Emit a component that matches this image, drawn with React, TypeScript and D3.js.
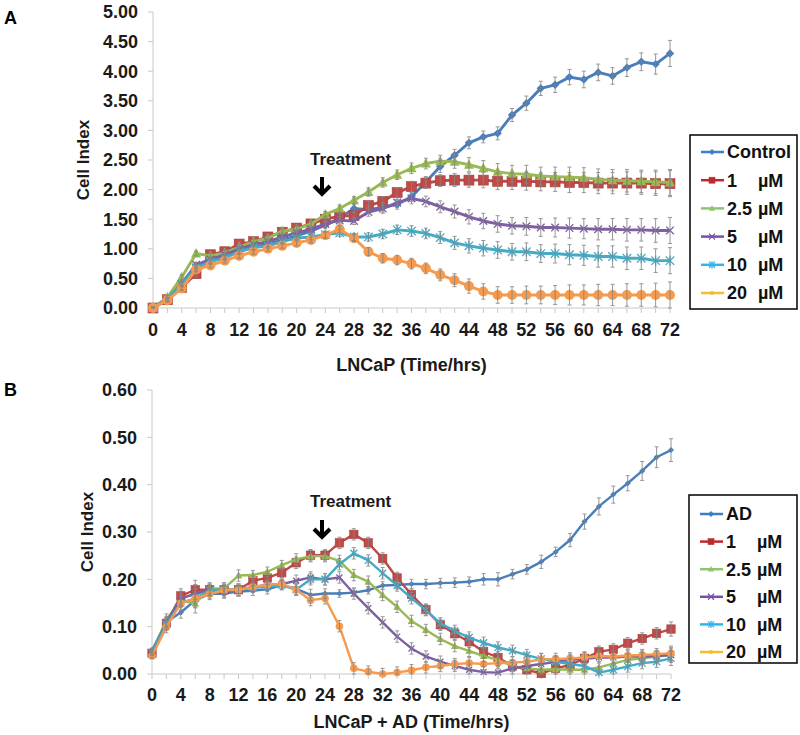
import React from "react";
import * as d3 from "d3";

// ---------- data ----------
const hours = [0, 2, 4, 6, 8, 10, 12, 14, 16, 18, 20, 22, 24, 26, 28, 30, 32, 34, 36, 38, 40, 42, 44, 46, 48, 50, 52, 54, 56, 58, 60, 62, 64, 66, 68, 70, 72];
const xTickLabels = [0, 4, 8, 12, 16, 20, 24, 28, 32, 36, 40, 44, 48, 52, 56, 60, 64, 68, 72];
const yTicksA = [0, 0.5, 1, 1.5, 2, 2.5, 3, 3.5, 4, 4.5, 5];
const yTicksB = [0, 0.1, 0.2, 0.3, 0.4, 0.5, 0.6];

const legendA = ["Control", "1", "2.5", "5", "10", "20"];
const legendB = ["AD", "1", "2.5", "5", "10", "20"];
const unitLabel = "µM";

// Panel A (LNCaP)
const aControl = [0, 0.15, 0.42, 0.72, 0.80, 0.87, 0.97, 1.03, 1.08, 1.15, 1.22, 1.30, 1.40, 1.52, 1.68, 1.66, 1.70, 1.75, 1.88, 2.13, 2.39, 2.58, 2.79, 2.89, 2.95, 3.26, 3.46, 3.71, 3.77, 3.90, 3.86, 3.98, 3.92, 4.06, 4.16, 4.12, 4.30];
const a1uM = [0, 0.14, 0.35, 0.58, 0.90, 0.95, 1.08, 1.12, 1.20, 1.28, 1.35, 1.42, 1.50, 1.55, 1.56, 1.73, 1.80, 1.95, 2.05, 2.11, 2.15, 2.16, 2.16, 2.16, 2.14, 2.14, 2.14, 2.13, 2.13, 2.12, 2.12, 2.11, 2.11, 2.11, 2.11, 2.10, 2.10];
const a2_5uM = [0, 0.18, 0.52, 0.92, 0.88, 0.93, 1.03, 1.12, 1.18, 1.30, 1.33, 1.42, 1.58, 1.68, 1.82, 1.96, 2.12, 2.25, 2.36, 2.44, 2.48, 2.47, 2.42, 2.36, 2.30, 2.27, 2.26, 2.23, 2.22, 2.21, 2.20, 2.17, 2.16, 2.15, 2.14, 2.13, 2.12];
const a5uM = [0, 0.15, 0.40, 0.73, 0.82, 0.90, 1.00, 1.07, 1.12, 1.20, 1.27, 1.33, 1.42, 1.48, 1.47, 1.62, 1.68, 1.78, 1.85, 1.80, 1.71, 1.63, 1.54, 1.47, 1.42, 1.39, 1.38, 1.36, 1.36, 1.35, 1.34, 1.33, 1.33, 1.32, 1.32, 1.31, 1.31];
const a10uM = [0, 0.15, 0.40, 0.68, 0.78, 0.85, 0.95, 1.02, 1.05, 1.12, 1.18, 1.20, 1.24, 1.27, 1.20, 1.20, 1.25, 1.32, 1.30, 1.26, 1.19, 1.10, 1.05, 1.01, 0.98, 0.95, 0.95, 0.92, 0.92, 0.90, 0.89, 0.87, 0.87, 0.84, 0.84, 0.80, 0.80];
const a20uM = [0, 0.13, 0.33, 0.65, 0.72, 0.80, 0.88, 0.95, 1.00, 1.05, 1.10, 1.15, 1.23, 1.33, 1.18, 0.95, 0.84, 0.81, 0.75, 0.67, 0.56, 0.47, 0.37, 0.28, 0.22, 0.22, 0.22, 0.22, 0.22, 0.22, 0.22, 0.22, 0.22, 0.22, 0.22, 0.22, 0.22];
const aErrControl = [0.02, 0.03, 0.04, 0.05, 0.05, 0.05, 0.05, 0.05, 0.05, 0.05, 0.06, 0.06, 0.06, 0.07, 0.07, 0.07, 0.08, 0.08, 0.08, 0.09, 0.10, 0.10, 0.10, 0.10, 0.11, 0.11, 0.12, 0.12, 0.13, 0.13, 0.14, 0.14, 0.14, 0.15, 0.15, 0.17, 0.22];
const aErrTreated = [0.02, 0.03, 0.04, 0.04, 0.04, 0.04, 0.04, 0.04, 0.04, 0.04, 0.05, 0.05, 0.05, 0.06, 0.06, 0.07, 0.08, 0.08, 0.09, 0.09, 0.10, 0.11, 0.12, 0.13, 0.14, 0.14, 0.15, 0.15, 0.16, 0.17, 0.17, 0.18, 0.18, 0.19, 0.19, 0.20, 0.22];

// Panel B (LNCaP + AD)
const bAD = [0.05, 0.11, 0.13, 0.156, 0.169, 0.17, 0.174, 0.176, 0.179, 0.188, 0.18, 0.167, 0.17, 0.17, 0.172, 0.177, 0.187, 0.188, 0.19, 0.19, 0.192, 0.193, 0.195, 0.20, 0.20, 0.211, 0.221, 0.237, 0.258, 0.283, 0.322, 0.354, 0.379, 0.403, 0.429, 0.458, 0.473];
const b1uM = [0.044, 0.107, 0.165, 0.178, 0.178, 0.178, 0.178, 0.197, 0.203, 0.214, 0.235, 0.251, 0.251, 0.277, 0.295, 0.277, 0.244, 0.203, 0.168, 0.136, 0.104, 0.085, 0.068, 0.047, 0.035, 0.017, 0.009, 0.001, 0.012, 0.019, 0.033, 0.047, 0.052, 0.065, 0.075, 0.086, 0.095];
const b2_5uM = [0.045, 0.115, 0.155, 0.149, 0.181, 0.181, 0.208, 0.209, 0.216, 0.23, 0.242, 0.249, 0.249, 0.239, 0.209, 0.195, 0.167, 0.142, 0.112, 0.093, 0.074, 0.059, 0.049, 0.038, 0.03, 0.017, 0.012, 0.009, 0.01, 0.009, 0.009, 0.014, 0.022, 0.03, 0.033, 0.037, 0.04];
const b5uM = [0.045, 0.11, 0.16, 0.169, 0.178, 0.174, 0.178, 0.184, 0.188, 0.19, 0.197, 0.204, 0.2, 0.204, 0.17, 0.139, 0.109, 0.079, 0.054, 0.037, 0.026, 0.017, 0.009, 0.004, 0.003, 0.012, 0.017, 0.021, 0.026, 0.03, 0.032, 0.035, 0.035, 0.037, 0.037, 0.038, 0.04];
const b10uM = [0.045, 0.105, 0.15, 0.16, 0.177, 0.178, 0.178, 0.182, 0.184, 0.188, 0.178, 0.2, 0.2, 0.232, 0.255, 0.24, 0.213, 0.187, 0.16, 0.135, 0.107, 0.091, 0.077, 0.066, 0.056, 0.049, 0.04, 0.032, 0.026, 0.021, 0.017, 0.003, 0.009, 0.016, 0.023, 0.026, 0.033];
const b20uM = [0.038, 0.099, 0.149, 0.16, 0.169, 0.177, 0.178, 0.184, 0.188, 0.191, 0.178, 0.156, 0.16, 0.101, 0.012, 0.005, 0.0, 0.003, 0.008, 0.014, 0.017, 0.021, 0.023, 0.021, 0.023, 0.024, 0.026, 0.031, 0.032, 0.033, 0.035, 0.038, 0.037, 0.039, 0.04, 0.042, 0.044];
const bErrAD = [0.005, 0.01, 0.012, 0.012, 0.01, 0.01, 0.01, 0.01, 0.01, 0.01, 0.012, 0.012, 0.01, 0.008, 0.008, 0.008, 0.008, 0.008, 0.01, 0.01, 0.01, 0.01, 0.01, 0.012, 0.014, 0.01, 0.01, 0.014, 0.01, 0.014, 0.016, 0.018, 0.018, 0.016, 0.02, 0.022, 0.024];
const bErrTreated = [0.005, 0.012, 0.015, 0.02, 0.012, 0.012, 0.012, 0.01, 0.01, 0.01, 0.012, 0.012, 0.012, 0.012, 0.012, 0.012, 0.012, 0.012, 0.012, 0.012, 0.012, 0.012, 0.012, 0.012, 0.012, 0.012, 0.012, 0.012, 0.012, 0.012, 0.012, 0.012, 0.012, 0.012, 0.012, 0.012, 0.015];

// ---------- styles ----------
const FONT = "'Liberation Sans', Arial, Helvetica, sans-serif";
const lineColors = ["#4A7EBB", "#BE4B48", "#98B954", "#7D60A0", "#46AAC5", "#F59A4E"];
const legendColors = ["#3D7CC9", "#C1272D", "#8CC66A", "#7A4FA8", "#2FB5E6", "#F2BE2E"];
const markerTypes = ["diamond", "square", "triangle", "x", "star", "circle"];

function Marker({ type, x, y, s, color }: { type: string; x: number; y: number; s: number; color: string }) {
  switch (type) {
    case "diamond":
      return <path d={`M${x},${y - s}L${x + s},${y}L${x},${y + s}L${x - s},${y}Z`} fill={color} />;
    case "square":
      return <rect x={x - s} y={y - s} width={2 * s} height={2 * s} fill={color} stroke="#A53E3B" strokeWidth={0.6} />;
    case "triangle":
      return <path d={`M${x},${y - s * 1.1}L${x + s},${y + s * 0.8}L${x - s},${y + s * 0.8}Z`} fill={color} />;
    case "x":
      return (
        <g stroke={color} strokeWidth={1.3}>
          <line x1={x - s} y1={y - s} x2={x + s} y2={y + s} />
          <line x1={x - s} y1={y + s} x2={x + s} y2={y - s} />
        </g>
      );
    case "star":
      return (
        <g stroke={color} strokeWidth={1.3}>
          <line x1={x - s} y1={y - s} x2={x + s} y2={y + s} />
          <line x1={x - s} y1={y + s} x2={x + s} y2={y - s} />
          <line x1={x} y1={y - s * 1.2} x2={x} y2={y + s * 1.2} />
        </g>
      );
    default:
      return <circle cx={x} cy={y} r={s} fill={color} />;
  }
}

type PanelProps = {
  xRange: [number, number];
  yRange: [number, number];
  yMax: number;
  yTicks: number[];
  series: number[][];
  errs: number[][];
  markerSizes: number[];
  lineWidth: number;
  xTitle: string;
  xTitleY: number;
  tickLabelY: number;
  yTitleX: number;
  letter: string;
  letterY: number;
  treatY: number;
  arrowTop: number;
  legendBox: [number, number, number, number];
  legendRow0: number;
  legendStep: number;
  legendLabels: string[];
};

function Panel(p: PanelProps) {
  const x = d3.scaleLinear().domain([0, 72]).range(p.xRange);
  const y = d3.scaleLinear().domain([0, p.yMax]).range(p.yRange);
  const line = d3
    .line<number>()
    .x((_, i) => x(hours[i]))
    .y((d) => y(d));
  const x0 = x(0);
  const y0 = y(0);
  const axisColor = "#C8C8C8";
  const [lx, ly, lw, lh] = p.legendBox;
  return (
    <g fontFamily={FONT} fontWeight="bold">
      {/* axes */}
      <line x1={x0} x2={x0} y1={y(p.yMax)} y2={y0} stroke={axisColor} strokeWidth={1} />
      <line x1={x0} x2={x(72)} y1={y0} y2={y0} stroke={axisColor} strokeWidth={1} />
      {p.yTicks.map((t) => (
        <g key={"yt" + t}>
          <line x1={x0 - 5} x2={x0} y1={y(t)} y2={y(t)} stroke={axisColor} />
          <text x={x0 - 15} y={y(t)} dy="0.36em" textAnchor="end" fontSize={18} fill="#1a1a1a">
            {t.toFixed(2)}
          </text>
        </g>
      ))}
      {hours.map((h) => (
        <line key={"xt" + h} x1={x(h)} x2={x(h)} y1={y0} y2={y0 + 5} stroke={axisColor} />
      ))}
      {xTickLabels.map((h) => (
        <text key={"xl" + h} x={x(h)} y={p.tickLabelY} textAnchor="middle" fontSize={18} fill="#1a1a1a">
          {h}
        </text>
      ))}
      {/* titles */}
      <text x={(x0 + x(72)) / 2} y={p.xTitleY} textAnchor="middle" fontSize={18} fill="#1a1a1a">
        {p.xTitle}
      </text>
      <text
        transform={`translate(${p.yTitleX},${(y0 + y(p.yMax)) / 2}) rotate(-90)`}
        textAnchor="middle"
        dy="0.36em"
        fontSize={17}
        fill="#1a1a1a"
      >
        Cell Index
      </text>
      <text x={4} y={p.letterY} fontSize={18} fill="#000">
        {p.letter}
      </text>
      {/* treatment */}
      <text x={310} y={p.treatY} fontSize={17} fill="#1a1a1a">
        Treatment
      </text>
      <g stroke="#000" strokeWidth={4} fill="none" strokeLinejoin="miter">
        <line x1={322} x2={322} y1={p.arrowTop} y2={p.arrowTop + 15} />
        <path d={`M${314},${p.arrowTop + 9}L322,${p.arrowTop + 17}L330,${p.arrowTop + 9}`} />
      </g>
      {/* series */}
      {p.series.map((s, si) => (
        <g key={"s" + si}>
          <path d={line(s) || ""} fill="none" stroke={lineColors[si]} strokeWidth={p.lineWidth} strokeLinejoin="round" />
          {s.map((v, i) => (
            <Marker key={i} type={markerTypes[si]} x={x(hours[i])} y={y(v)} s={p.markerSizes[si]} color={lineColors[si]} />
          ))}
        </g>
      ))}
      {/* error bars */}
      <g stroke="#858585" strokeWidth={1} opacity={0.85}>
        {p.series.map((s, si) =>
          s.map((v, i) => {
            const e = p.errs[si][i];
            const xx = x(hours[i]);
            return (
              <g key={`e${si}-${i}`}>
                <line x1={xx} x2={xx} y1={y(v + e)} y2={y(Math.max(0, v - e))} />
                <line x1={xx - 2} x2={xx + 2} y1={y(v + e)} y2={y(v + e)} />
                <line x1={xx - 2} x2={xx + 2} y1={y(Math.max(0, v - e))} y2={y(Math.max(0, v - e))} />
              </g>
            );
          })
        )}
      </g>
      {/* legend */}
      <rect x={lx} y={ly} width={lw} height={lh} fill="#fff" stroke="#000" strokeWidth={1.5} />
      {p.legendLabels.map((lab, i) => {
        const ry = p.legendRow0 + i * p.legendStep;
        const isUnit = i > 0;
        return (
          <g key={"lg" + i}>
            <line x1={lx + 11} x2={lx + 34} y1={ry} y2={ry} stroke={legendColors[i]} strokeWidth={2.5} />
            <Marker type={markerTypes[i]} x={lx + 22} y={ry} s={i === 5 ? 2 : 3} color={legendColors[i]} />
            <text x={lx + 37} y={ry} dy="0.36em" fontSize={18} fill="#111">
              {lab}
            </text>
            {isUnit && (
              <text x={lx + 68} y={ry} dy="0.36em" fontSize={18} fill="#111">
                {unitLabel}
              </text>
            )}
          </g>
        );
      })}
    </g>
  );
}

export default function App() {
  return (
    <svg width={800} height={735} style={{ position: "absolute", left: 0, top: 0, background: "#fff" }}>
      <rect width={800} height={735} fill="#fff" />
      <Panel
        xRange={[153, 670]}
        yRange={[308, 12]}
        yMax={5}
        yTicks={yTicksA}
        series={[aControl, a1uM, a2_5uM, a5uM, a10uM, a20uM]}
        errs={[aErrControl, aErrTreated, aErrTreated, aErrTreated, aErrTreated, aErrTreated]}
        markerSizes={[4.2, 5, 5, 3.8, 4.2, 5]}
        lineWidth={2.9}
        xTitle="LNCaP (Time/hrs)"
        xTitleY={371}
        tickLabelY={336}
        yTitleX={83}
        letter="A"
        letterY={24}
        treatY={165}
        arrowTop={177}
        legendBox={[690, 135, 107, 174]}
        legendRow0={152}
        legendStep={28.2}
        legendLabels={legendA}
      />
      <Panel
        xRange={[152, 671]}
        yRange={[674, 390]}
        yMax={0.6}
        yTicks={yTicksB}
        series={[bAD, b1uM, b2_5uM, b5uM, b10uM, b20uM]}
        errs={[bErrAD, bErrTreated, bErrTreated, bErrTreated, bErrTreated, bErrTreated]}
        markerSizes={[3, 4.2, 3.8, 3, 3.5, 3.8]}
        lineWidth={2.4}
        xTitle="LNCaP + AD (Time/hrs)"
        xTitleY={728}
        tickLabelY={701}
        yTitleX={87}
        letter="B"
        letterY={396}
        treatY={507}
        arrowTop={520}
        legendBox={[689, 495, 108, 168]}
        legendRow0={514}
        legendStep={27.6}
        legendLabels={legendB}
      />
    </svg>
  );
}
